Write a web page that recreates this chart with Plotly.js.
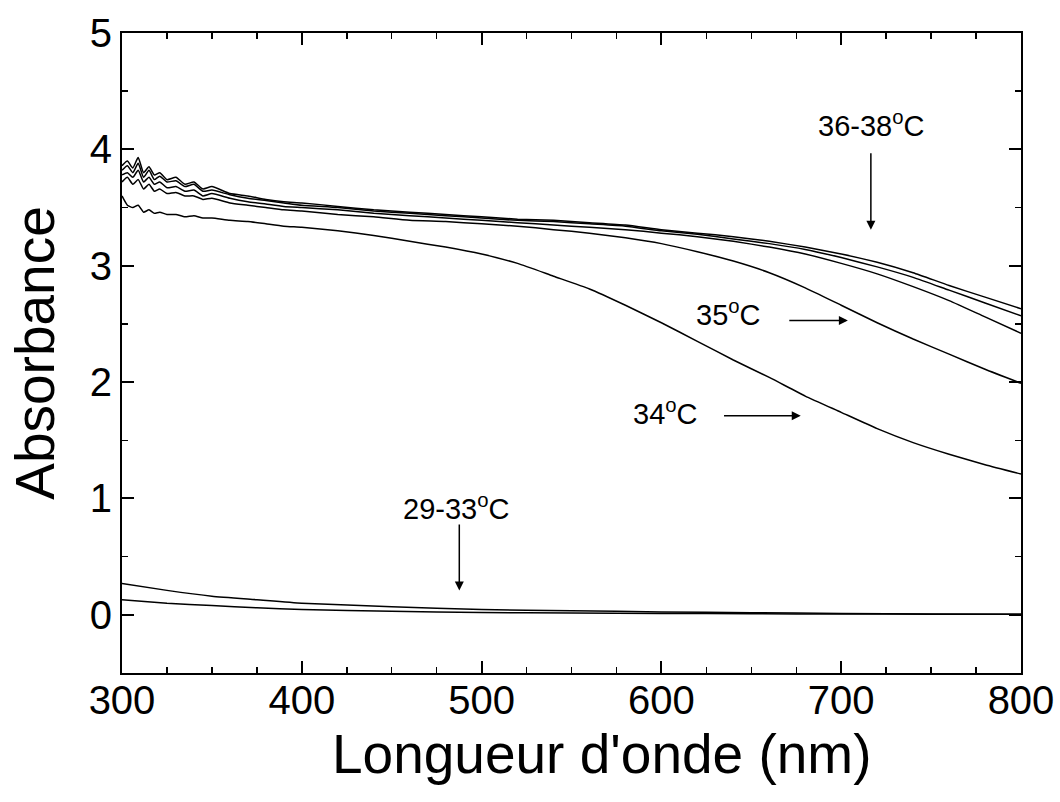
<!DOCTYPE html>
<html><head><meta charset="utf-8">
<script src="https://cdn.plot.ly/plotly-3.0.1.min.js"></script>
<style>body{margin:0;background:#fff}#chart{width:1060px;height:802px}</style>
</head><body><div id="chart"></div>
<script>
// wavelength grid (nm) for the upper curves
const lamHigh = [300,303,306,309,312,315,318,321,325,330,335,340,345,350,360,370,380,390,400,420,440,460,480,500,520,540,560,580,600,620,640,660,680,700,720,740,760,780,800];
// 36-38 °C cluster
const abs38 = [3.86,3.90,3.84,3.93,3.80,3.85,3.78,3.80,3.74,3.76,3.70,3.72,3.66,3.68,3.62,3.60,3.57,3.55,3.54,3.51,3.48,3.46,3.44,3.42,3.40,3.39,3.37,3.35,3.31,3.28,3.25,3.21,3.16,3.10,3.03,2.94,2.83,2.73,2.63];
const abs37 = [3.82,3.86,3.80,3.88,3.76,3.82,3.74,3.77,3.72,3.73,3.68,3.70,3.64,3.65,3.61,3.58,3.56,3.54,3.52,3.50,3.47,3.45,3.43,3.41,3.39,3.38,3.36,3.34,3.30,3.27,3.23,3.19,3.14,3.07,2.99,2.90,2.79,2.68,2.57];
const abs36 = [3.78,3.80,3.76,3.82,3.72,3.76,3.70,3.72,3.67,3.68,3.64,3.65,3.60,3.62,3.58,3.55,3.53,3.51,3.50,3.48,3.45,3.43,3.41,3.39,3.37,3.35,3.33,3.31,3.28,3.25,3.21,3.16,3.10,3.02,2.93,2.82,2.70,2.56,2.42];
// 35 °C
const abs35 = [3.72,3.76,3.70,3.74,3.66,3.70,3.64,3.66,3.62,3.63,3.60,3.60,3.57,3.58,3.54,3.52,3.50,3.48,3.47,3.44,3.42,3.39,3.38,3.36,3.34,3.31,3.28,3.24,3.19,3.12,3.04,2.94,2.81,2.66,2.51,2.37,2.24,2.11,1.99];
// 34 °C
const abs34 = [3.60,3.52,3.50,3.52,3.46,3.48,3.45,3.46,3.44,3.44,3.42,3.43,3.41,3.41,3.39,3.38,3.36,3.34,3.33,3.30,3.26,3.21,3.16,3.10,3.02,2.91,2.80,2.66,2.51,2.35,2.19,2.04,1.88,1.74,1.60,1.48,1.38,1.29,1.21];
// 29-33 °C (low curves)
const lamLow = [300,325,350,375,400,450,500,550,600,650,700,750,800];
const absLowA = [0.27,0.21,0.16,0.13,0.10,0.07,0.045,0.035,0.025,0.018,0.012,0.008,0.005];
const absLowB = [0.13,0.10,0.08,0.06,0.045,0.03,0.02,0.015,0.012,0.009,0.007,0.005,0.004];

// annotation labels
const labels = ['36-38<sup>o</sup>C','35<sup>o</sup>C','34<sup>o</sup>C','29-33<sup>o</sup>C'];
const labelX = [716.5, 637.4, 602.3, 486.0];
const labelY = [4.22, 2.59, 1.74, 0.93];
// arrows: head (x,y), tail (ax,ay)
const arrowX  = [716.5, 703.7, 677.5, 487.6];
const arrowY  = [3.31, 2.53, 1.71, 0.21];
const arrowAX = [716.5, 670.3, 634.0, 487.6];
const arrowAY = [3.98, 2.53, 1.71, 0.79];
const xTitle = "Longueur d'onde (nm)";
const yTitle = 'Absorbance';

const line = {color:'#000', width:1.5, shape:'spline', smoothing:0.5};
const mk = (x,y,name)=>({x:x,y:y,type:'scatter',mode:'lines',line:line,name:name,showlegend:false,hoverinfo:'x+y'});
const data = [
  mk(lamHigh,abs38,'38 °C'), mk(lamHigh,abs37,'37 °C'), mk(lamHigh,abs36,'36 °C'),
  mk(lamHigh,abs35,'35 °C'), mk(lamHigh,abs34,'34 °C'),
  mk(lamLow,absLowA,'29-33 °C'), mk(lamLow,absLowB,'29-33 °C')
];

const fam = '"Liberation Sans", Arial, sans-serif';
const annFont = {family:fam, size:29, color:'#000'};
const annotations = [];
labels.forEach((t,i)=>{
  annotations.push({x:labelX[i], y:labelY[i], xref:'x', yref:'y', text:t, showarrow:false, font:annFont, xanchor:'center', yanchor:'middle'});
  annotations.push({x:arrowX[i], y:arrowY[i], ax:arrowAX[i], ay:arrowAY[i], xref:'x', yref:'y', axref:'x', ayref:'y', text:'', showarrow:true, arrowhead:2, arrowsize:1.2, arrowwidth:1.5, arrowcolor:'#000'});
});
// x-axis title (placed slightly right of centre as in the original)
annotations.push({x:0.533, y:-0.127, xref:'paper', yref:'paper', text:xTitle, showarrow:false, xanchor:'center', yanchor:'middle', font:{family:fam, size:55, color:'#000'}});

const axisCommon = {showgrid:false, zeroline:false, showline:true, linecolor:'#000', linewidth:2, mirror:'allticks', ticks:'inside', tickcolor:'#000', tickwidth:2, ticklen:12, tickfont:{family:fam, size:40, color:'#000'}};
const layout = {
  width:1060, height:802,
  margin:{l:122, r:39, t:33, b:129},
  paper_bgcolor:'#fff', plot_bgcolor:'#fff',
  xaxis: Object.assign({}, axisCommon, {range:[300,800], dtick:100, tick0:300, ticklabelstandoff:-9,
    minor:{ticks:'inside', dtick:25, ticklen:6, tickwidth:1.5, tickcolor:'#000'}}),
  yaxis: Object.assign({}, axisCommon, {range:[-0.5,5], dtick:1, tick0:0,
    minor:{ticks:'inside', dtick:0.5, ticklen:6, tickwidth:1.5, tickcolor:'#000'},
    title:{text:yTitle, font:{family:fam, size:55, color:'#000'}, standoff:18}}),
  annotations: annotations
};
Plotly.newPlot('chart', data, layout, {displayModeBar:false, staticPlot:true});
</script></body></html>
